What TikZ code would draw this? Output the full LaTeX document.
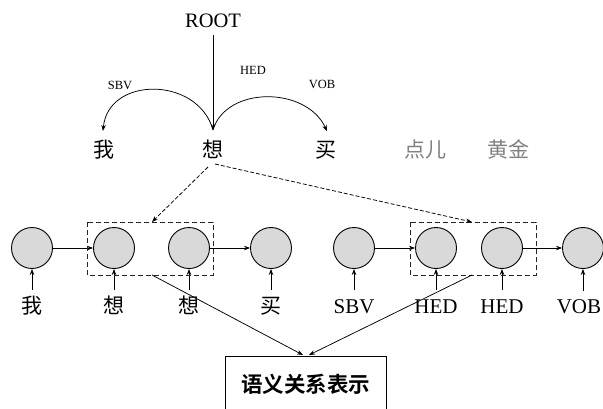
\documentclass[tikz,border=0pt]{standalone}
\usepackage{fontspec}
\setmainfont{Liberation Serif}
\newfontfamily\cjk{Noto Sans CJK SC}[BoldFont={Noto Sans CJK SC Bold}]
\usetikzlibrary{arrows.meta,calc}
\definecolor{cfill}{HTML}{D9D9D9}
\definecolor{wgray}{HTML}{808080}
\tikzset{
  cell/.style={circle,draw,fill=cfill,minimum size=41pt,inner sep=0pt,line width=0.9pt},
  arr/.style={-{Stealth[length=6pt,width=4.5pt]},line width=0.75pt},
  lab/.style={anchor=base,inner sep=0pt,text height=23pt,font=\fontsize{21}{21}\selectfont},
  clab/.style={lab,font=\cjk\fontsize{21}{21}\selectfont},
  word/.style={anchor=base,inner sep=0pt,font=\cjk\fontsize{21}{21}\selectfont},
  rel/.style={font=\fontsize{12.5}{12.5}\selectfont,inner sep=0pt},
  dbox/.style={draw=black!85,dashed,dash pattern=on 5pt off 3pt,line width=0.9pt},
}
\begin{document}
\begin{tikzpicture}[x=1pt,y=-1pt]
\useasboundingbox (0,0) rectangle (603,408);
% dependency tree
\node[anchor=base,inner sep=0pt,font=\fontsize{20.5}{20.5}\selectfont] (root) at (213,27) {ROOT};
\node[word] (wo) at (104,157) {我};
\node[word] (xiang) at (213,157) {想};
\node[word] (mai) at (326,157) {买};
\node[word,text=wgray] (dian) at (425,157) {点儿};
\node[word,text=wgray] (huang) at (508,157) {黄金};
\coordinate (h) at (213,130);
\coordinate (wt) at (103,131);
\coordinate (mt) at (327,131);
\draw[arr] (213,35) -- (h);
\draw[arr] (h) .. controls (198,76) and (108,76) .. (wt);
\draw[arr] (h) .. controls (226,86) and (306,86) .. (mt);
\node[rel] (sbv) at (120,85) {SBV};
\node[rel] (hed) at (253,70) {HED};
\node[rel] (vob) at (322,84) {VOB};
% sequence
\foreach \i/\x in {1/32,2/114,3/189,4/271,5/354,6/436,7/502,8/583}{
  \node[cell] (c\i) at (\x,248) {};
}
\node[clab] (l1) at (32,313) {我};
\node[clab] (l2) at (114,313) {想};
\node[clab] (l3) at (189,313) {想};
\node[clab] (l4) at (271,313) {买};
\node[lab] (l5) at (354,313) {SBV};
\node[lab] (l6) at (436,313) {HED};
\node[lab] (l7) at (502,313) {HED};
\node[lab] (l8) at (579,313) {VOB};
\foreach \i in {1,...,7}{ \draw[arr] (l\i.north) -- (c\i.south); }
\coordinate (v8) at (583,291);
\draw[arr] (v8) -- (c8.south);
\draw[arr] (c1) -- (c2);
\draw[arr] (c3) -- (c4);
\draw[arr] (c5) -- (c6);
\draw[arr] (c7) -- (c8);
% dashed boxes
\draw[dbox] (87,222) rectangle (213,275);
\draw[dbox] (410,222) rectangle (536,275);
\coordinate (bl) at (152,222);
\coordinate (br) at (472,222);
\coordinate (bls) at (152,275);
\coordinate (brs) at (472,275);
\coordinate (xs1) at (208,167);
\coordinate (xs2) at (215,164);
\draw[arr,dashed,dash pattern=on 4pt off 2pt] (xs1) -- (bl);
\draw[arr,dashed,dash pattern=on 4pt off 2pt] (xs2) -- (br);
% semantic box
\node[draw,line width=0.9pt,minimum width=161pt,minimum height=60pt,inner sep=0pt,anchor=north] (sem) at (305.5,356) {};
\node[font=\cjk\bfseries\fontsize{21.5}{21.5}\selectfont,inner sep=0pt] (semt) at (305.5,384) {语义关系表示};
\coordinate (t1) at (303,355);
\coordinate (t2) at (309,355);
\draw[arr] (bls) -- (t1);
\draw[arr] (brs) -- (t2);
\end{tikzpicture}
\end{document}
